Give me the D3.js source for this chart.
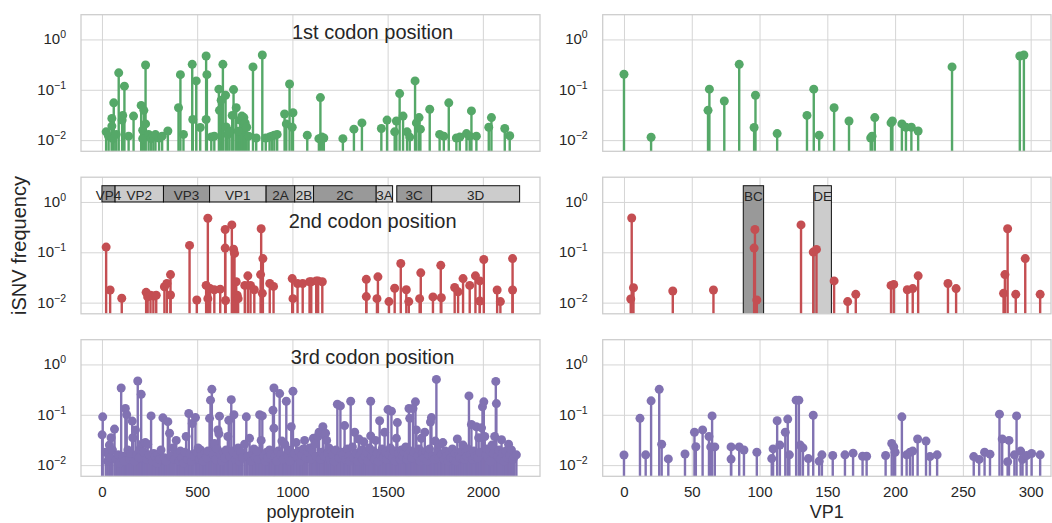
<!DOCTYPE html>
<html>
<head>
<meta charset="utf-8">
<script src="https://d3js.org/d3.v7.min.js"></script>
<style>
  body { margin: 0; background: #fff; }
  svg { display: block; }
  text { font-family: "Liberation Sans", Arial, sans-serif; fill: #262626; }
</style>
</head>
<body>
<svg id="chart" width="1052" height="523"></svg>
<script>
// iSNV frequencies per codon position: [position, frequency]
const codon1Poly = [[22,0.0146],[35,0.012],[52,0.027],[52,0.019],[57,0.0107],[62,0.055],[75,0.013],[88,0.217],[106,0.025],[109,0.031],[118,0.118],[140,0.012],[166,0.030],[206,0.049],[214,0.0157],[214,0.0107],[220,0.039],[229,0.31],[229,0.021],[245,0.013],[258,0.0107],[270,0.012],[281,0.0129],[300,0.011],[316,0.012],[346,0.0152],[402,0.044],[412,0.20],[428,0.013],[474,0.32],[477,0.0257],[495,0.15],[516,0.0178],[547,0.47],[551,0.20],[547,0.0257],[574,0.0116],[590,0.012],[614,0.103],[617,0.039],[626,0.062],[635,0.32],[649,0.078],[652,0.0183],[660,0.013],[670,0.015],[684,0.031],[691,0.101],[705,0.044],[715,0.015],[725,0.025],[735,0.030],[745,0.028],[752,0.022],[760,0.018],[770,0.012],[793,0.285],[810,0.011],[842,0.49],[860,0.011],[880,0.0115],[892,0.012],[905,0.0125],[920,0.013],[959,0.033],[968,0.021],[985,0.13],[999,0.018],[1003,0.035],[1078,0.0125],[1139,0.0107],[1147,0.070],[1155,0.0115],[1165,0.011],[1265,0.0107],[1323,0.0165],[1365,0.022],[1467,0.017],[1497,0.025],[1537,0.0146],[1546,0.024],[1563,0.084],[1581,0.030],[1602,0.0146],[1616,0.0115],[1644,0.150],[1651,0.022],[1665,0.028],[1672,0.0165],[1721,0.041],[1773,0.013],[1795,0.012],[1821,0.055],[1861,0.011],[1879,0.0115],[1914,0.0135],[1931,0.012],[1940,0.038],[1966,0.012],[2031,0.018],[2045,0.028],[2115,0.017],[2141,0.0122]];

const codon2Poly = [[22,0.127],[43,0.0178],[104,0.0122],[232,0.016],[240,0.013],[255,0.014],[270,0.0135],[285,0.014],[328,0.0207],[341,0.024],[360,0.036],[360,0.0142],[460,0.137],[498,0.0113],[547,0.022],[556,0.475],[556,0.012],[568,0.019],[590,0.018],[621,0.0185],[647,0.284],[647,0.121],[649,0.011],[682,0.35],[691,0.115],[696,0.095],[705,0.026],[710,0.014],[715,0.012],[750,0.022],[766,0.034],[780,0.022],[800,0.018],[833,0.036],[836,0.293],[842,0.0153],[845,0.075],[881,0.024],[901,0.021],[999,0.030],[1003,0.012],[1027,0.024],[1054,0.024],[1090,0.026],[1099,0.026],[1125,0.027],[1135,0.027],[1157,0.026],[1388,0.029],[1388,0.0132],[1444,0.012],[1449,0.0325],[1507,0.0105],[1537,0.0193],[1569,0.060],[1598,0.018],[1611,0.0105],[1668,0.012],[1674,0.039],[1738,0.013],[1779,0.055],[1782,0.0125],[1852,0.020],[1870,0.0164],[1896,0.030],[1931,0.022],[1961,0.034],[1984,0.027],[1984,0.0108],[2005,0.072],[2075,0.0178],[2092,0.0105],[2156,0.075],[2156,0.0178]];

const codon3Poly = [[1,0.040],[4,0.091],[20,0.018],[30,0.012],[39,0.025],[43,0.014],[48,0.035],[55,0.020],[66,0.052],[75,0.013],[85,0.016],[92,0.011],[101,0.34],[110,0.015],[117,0.012],[123,0.133],[130,0.10],[136,0.020],[145,0.013],[150,0.017],[159,0.075],[162,0.035],[170,0.012],[176,0.050],[182,0.016],[188,0.47],[195,0.014],[200,0.021],[206,0.255],[214,0.027],[220,0.018],[228,0.028],[235,0.013],[240,0.026],[248,0.016],[258,0.095],[265,0.012],[272,0.017],[280,0.015],[288,0.011],[295,0.016],[302,0.013],[310,0.020],[320,0.087],[328,0.014],[336,0.012],[346,0.073],[355,0.043],[362,0.015],[372,0.022],[380,0.013],[390,0.031],[398,0.017],[405,0.012],[412,0.019],[420,0.014],[428,0.011],[435,0.018],[442,0.037],[449,0.013],[456,0.106],[463,0.016],[470,0.012],[474,0.067],[482,0.015],[491,0.088],[498,0.018],[505,0.022],[512,0.013],[518,0.020],[525,0.015],[532,0.012],[540,0.017],[548,0.014],[556,0.019],[565,0.085],[570,0.195],[577,0.32],[584,0.016],[591,0.027],[598,0.013],[605,0.021],[609,0.050],[614,0.042],[617,0.094],[624,0.016],[630,0.012],[638,0.018],[645,0.014],[652,0.020],[661,0.037],[666,0.078],[672,0.015],[679,0.20],[686,0.019],[693,0.10],[700,0.013],[708,0.016],[715,0.022],[722,0.012],[730,0.018],[738,0.014],[749,0.026],[758,0.091],[765,0.015],[775,0.034],[782,0.012],[790,0.017],[798,0.021],[805,0.014],[812,0.019],[820,0.013],[828,0.10],[836,0.031],[842,0.095],[850,0.015],[858,0.012],[865,0.018],[872,0.014],[880,0.020],[888,0.016],[898,0.123],[903,0.34],[903,0.054],[910,0.015],[918,0.012],[925,0.019],[933,0.264],[940,0.016],[945,0.030],[952,0.013],[960,0.026],[968,0.186],[975,0.015],[982,0.020],[987,0.012],[994,0.058],[1003,0.292],[1010,0.017],[1020,0.028],[1028,0.014],[1035,0.019],[1042,0.012],[1050,0.016],[1057,0.021],[1064,0.031],[1072,0.014],[1080,0.018],[1090,0.022],[1097,0.013],[1104,0.020],[1110,0.034],[1117,0.026],[1125,0.015],[1134,0.037],[1140,0.045],[1147,0.013],[1154,0.018],[1160,0.058],[1167,0.015],[1174,0.043],[1180,0.031],[1186,0.017],[1192,0.022],[1198,0.013],[1205,0.019],[1212,0.016],[1220,0.012],[1228,0.020],[1236,0.162],[1244,0.014],[1252,0.150],[1258,0.018],[1265,0.016],[1274,0.061],[1280,0.013],[1288,0.021],[1295,0.015],[1300,0.012],[1306,0.186],[1315,0.023],[1321,0.014],[1327,0.045],[1335,0.017],[1342,0.012],[1349,0.033],[1356,0.016],[1362,0.020],[1368,0.013],[1375,0.029],[1382,0.015],[1390,0.018],[1397,0.012],[1404,0.022],[1411,0.186],[1411,0.038],[1418,0.015],[1425,0.019],[1431,0.013],[1437,0.031],[1444,0.017],[1451,0.012],[1458,0.076],[1465,0.016],[1471,0.021],[1478,0.014],[1484,0.045],[1490,0.018],[1496,0.013],[1502,0.127],[1508,0.016],[1514,0.022],[1520,0.118],[1527,0.014],[1534,0.019],[1540,0.012],[1546,0.034],[1551,0.070],[1558,0.017],[1565,0.013],[1572,0.020],[1580,0.015],[1587,0.018],[1595,0.023],[1602,0.013],[1607,0.016],[1612,0.133],[1616,0.085],[1622,0.019],[1628,0.014],[1633,0.133],[1640,0.018],[1646,0.181],[1651,0.050],[1658,0.015],[1664,0.021],[1670,0.012],[1677,0.034],[1683,0.017],[1690,0.014],[1695,0.045],[1702,0.019],[1708,0.012],[1714,0.016],[1720,0.021],[1725,0.072],[1730,0.088],[1738,0.015],[1745,0.013],[1750,0.030],[1756,0.505],[1762,0.018],[1768,0.014],[1775,0.026],[1782,0.016],[1790,0.028],[1796,0.013],[1803,0.019],[1810,0.015],[1818,0.012],[1825,0.018],[1832,0.014],[1840,0.021],[1848,0.013],[1855,0.017],[1860,0.012],[1866,0.033],[1873,0.016],[1880,0.014],[1888,0.019],[1896,0.025],[1903,0.013],[1910,0.018],[1917,0.015],[1922,0.021],[1927,0.237],[1934,0.016],[1940,0.064],[1947,0.013],[1953,0.019],[1960,0.015],[1966,0.058],[1972,0.014],[1978,0.035],[1985,0.018],[1993,0.055],[1998,0.144],[2005,0.181],[2010,0.037],[2016,0.016],[2022,0.021],[2028,0.014],[2035,0.019],[2041,0.012],[2048,0.025],[2055,0.017],[2062,0.037],[2068,0.46],[2071,0.167],[2078,0.015],[2085,0.020],[2092,0.013],[2098,0.032],[2105,0.017],[2112,0.012],[2120,0.019],[2128,0.014],[2135,0.026],[2142,0.016],[2150,0.020],[2158,0.013],[2165,0.015],[2176,0.016]];

const codon1VP1 = [[0,0.204],[20,0.0114],[62,0.039],[63,0.103],[74,0.060],[85,0.32],[96,0.0178],[97,0.078],[113,0.0135],[135,0.031],[140,0.103],[144,0.0125],[155,0.044],[166,0.024],[182,0.011],[183,0.012],[185,0.028],[197,0.022],[198,0.024],[205,0.021],[208,0.018],[212,0.018],[217,0.0152],[242,0.285],[292,0.47],[295,0.49]];

const codon2VP1 = [[5,0.0118],[5.7,0.48],[7,0.0198],[36,0.017],[66,0.0178],[96,0.121],[96.6,0.284],[98,0.0113],[130.6,0.35],[139.6,0.101],[142,0.114],[155,0.027],[165,0.0105],[171,0.0146],[197,0.022],[199,0.023],[209,0.018],[213,0.019],[217,0.034],[239,0.024],[245,0.019],[280,0.0153],[281,0.036],[283,0.293],[289,0.0146],[296,0.075],[307,0.0146]];

const codon3VP1 = [[0,0.0159],[11.8,0.085],[16,0.016],[20,0.189],[26,0.32],[27.8,0.026],[32.7,0.0133],[45,0.0166],[52,0.045],[53,0.0232],[58,0.050],[62.7,0.037],[64,0.023],[65,0.095],[67,0.023],[79,0.023],[79,0.0132],[85,0.023],[88.5,0.020],[98,0.018],[109,0.0135],[110,0.021],[113,0.076],[115,0.025],[119,0.045],[120.8,0.082],[122,0.016],[127,0.195],[129,0.195],[130,0.025],[132,0.022],[136,0.0135],[139.6,0.098],[144,0.012],[146,0.016],[154,0.0155],[163,0.016],[169,0.0173],[176,0.015],[179,0.015],[193,0.0155],[197.5,0.027],[199,0.023],[200,0.018],[205,0.091],[208.5,0.016],[211,0.018],[213,0.019],[216.6,0.033],[222.8,0.030],[225.7,0.0148],[231,0.016],[258,0.0148],[262,0.013],[266,0.018],[270,0.0165],[277,0.103],[279,0.033],[283,0.0117],[284,0.031],[288,0.016],[289.6,0.095],[292.6,0.019],[294,0.013],[297,0.0155],[300.7,0.017],[307,0.016]];

// Polyprotein genes: name, start, end
const geneNames  = ["VP4","VP2","VP3","VP1","2A","2B","2C","3A","3C","3D"];
const geneStarts = [0, 69, 323, 565, 862, 1012, 1111, 1440, 1548, 1731];
const geneEnds   = [69, 323, 565, 862, 1012, 1111, 1440, 1526, 1731, 2193];
const geneShades = ["#999999","#cccccc","#999999","#cccccc","#999999","#cccccc","#999999","#cccccc","#999999","#cccccc"];

// VP1 loops
const loopNames  = ["BC","DE"];
const loopStarts = [88, 140];
const loopEnds   = [103, 153];
const loopShades = ["#999999","#cccccc"];

const rowLabels = ["1st codon position", "2nd codon position", "3rd codon position"];
const rowLabelY = [1.0, 0.3, 1.0];
const colors = ["#55a868", "#c44e52", "#8172b2"];
const polyTicks = [0, 500, 1000, 1500, 2000];
const vp1Ticks = [0, 50, 100, 150, 200, 250, 300];
const yTicks = [1, 0.1, 0.01];
const yExps = ["0", "\u22121", "\u22122"];

const svg = d3.select("#chart");

const colL = [81, 540];
const colR = [602.7, 1051];
const rowTops = [14.7, 177.2, 339.7];
const rowH = 136.6;

const xPoly = d3.scaleLinear().domain([-110, 2300]).range(colL);
const xVP1 = d3.scaleLinear().domain([-15.7, 315]).range(colR);

const polyData = [codon1Poly, codon2Poly, codon3Poly];
const vp1Data = [codon1VP1, codon2VP1, codon3VP1];

function drawPanel(x, data, row, color, ticks, isPoly) {
  const top = rowTops[row], bottom = top + rowH;
  const y = d3.scaleLog().domain([0.006, 3.1]).range([bottom, top]);
  const [x0, x1] = x.range();
  const g = svg.append("g");
  const clipId = "clip-" + row + (isPoly ? "p" : "v");
  svg.append("clipPath").attr("id", clipId)
    .append("rect").attr("x", x0).attr("y", top).attr("width", x1 - x0).attr("height", rowH);

  // gridlines
  g.append("g").attr("transform", `translate(0,${bottom})`)
    .call(d3.axisBottom(x).tickValues(ticks).tickSize(-rowH).tickFormat(""))
    .call(a => a.select(".domain").remove())
    .call(a => a.selectAll("line").attr("stroke", "#d5d5d5").attr("stroke-width", 1));
  g.append("g").attr("transform", `translate(${x0},0)`)
    .call(d3.axisLeft(y).tickValues(yTicks).tickSize(-(x1 - x0)).tickFormat(""))
    .call(a => a.select(".domain").remove())
    .call(a => a.selectAll("line").attr("stroke", "#d5d5d5").attr("stroke-width", 1));

  const inner = g.append("g").attr("clip-path", `url(#${clipId})`);

  // annotation boxes
  if (row === 1 && isPoly) {
    const gb = inner.append("g");
    geneNames.forEach((n, i) => {
      gb.append("rect")
        .attr("x", x(geneStarts[i])).attr("width", x(geneEnds[i]) - x(geneStarts[i]))
        .attr("y", y(2.1)).attr("height", y(1) - y(2.1))
        .attr("fill", geneShades[i]).attr("stroke", "#111").attr("stroke-width", 1);
    });
    geneNames.forEach((n, i) => {
      gb.append("text")
        .attr("x", (x(geneStarts[i]) + x(geneEnds[i])) / 2).attr("y", y(1) - 1.5)
        .attr("text-anchor", "middle").attr("font-size", 13.5).text(n);
    });
  }
  if (row === 1 && !isPoly) {
    loopNames.forEach((n, i) => {
      inner.append("rect")
        .attr("x", x(loopStarts[i])).attr("width", x(loopEnds[i]) - x(loopStarts[i]))
        .attr("y", y(2.1)).attr("height", bottom + 2 - y(2.1))
        .attr("fill", loopShades[i]).attr("stroke", "#111").attr("stroke-width", 1);
      inner.append("text")
        .attr("x", (x(loopStarts[i]) + x(loopEnds[i])) / 2).attr("y", y(1) - 1)
        .attr("text-anchor", "middle").attr("font-size", 13.5).text(n);
    });
  }

  // stems and heads
  inner.selectAll("line.stem").data(data).join("line")
    .attr("class", "stem")
    .attr("x1", d => x(d[0])).attr("x2", d => x(d[0]))
    .attr("y1", bottom + 2).attr("y2", d => y(d[1]))
    .attr("stroke", color).attr("stroke-width", 2.4);
  inner.selectAll("circle").data(data).join("circle")
    .attr("cx", d => x(d[0])).attr("cy", d => y(d[1])).attr("r", 4.5)
    .attr("fill", color);

  // frame
  g.append("rect").attr("x", x0).attr("y", top).attr("width", x1 - x0).attr("height", rowH)
    .attr("fill", "none").attr("stroke", "#cccccc").attr("stroke-width", 1.25);

  // y tick labels 10^n
  yTicks.forEach((t, i) => {
    const tx = g.append("text").attr("x", x0 - 15).attr("y", y(t) + 5)
      .attr("text-anchor", "end").attr("font-size", 15);
    tx.append("tspan").text("10");
    tx.append("tspan").attr("dy", -6).attr("font-size", 10.5).text(yExps[i]);
  });

  // x tick labels on the bottom row
  if (row === 2) {
    g.append("g").attr("transform", `translate(0,${bottom})`)
      .call(d3.axisBottom(x).tickValues(ticks).tickSize(0).tickPadding(10).tickFormat(d3.format("d")))
      .call(a => a.select(".domain").remove())
      .call(a => a.selectAll("text").attr("font-size", 15).attr("fill", "#262626")
        .attr("font-family", '"Liberation Sans", Arial, sans-serif'));
  }

  // row label
  if (isPoly) {
    g.append("text").attr("x", x(1421)).attr("y", y(rowLabelY[row]))
      .attr("text-anchor", "middle").attr("font-size", 20).text(rowLabels[row]);
  }
}

for (let r = 0; r < 3; r++) {
  drawPanel(xPoly, polyData[r], r, colors[r], polyTicks, true);
  drawPanel(xVP1, vp1Data[r], r, colors[r], vp1Ticks, false);
}

svg.append("text").attr("transform", `translate(26,${(rowTops[0] + rowTops[2] + rowH) / 2}) rotate(-90)`)
  .attr("text-anchor", "middle").attr("font-size", 20).text("iSNV frequency");
svg.append("text").attr("x", (colL[0] + colL[1]) / 2).attr("y", 518)
  .attr("text-anchor", "middle").attr("font-size", 18).text("polyprotein");
svg.append("text").attr("x", (colR[0] + colR[1]) / 2).attr("y", 518)
  .attr("text-anchor", "middle").attr("font-size", 18).text("VP1");
</script>
</body>
</html>
